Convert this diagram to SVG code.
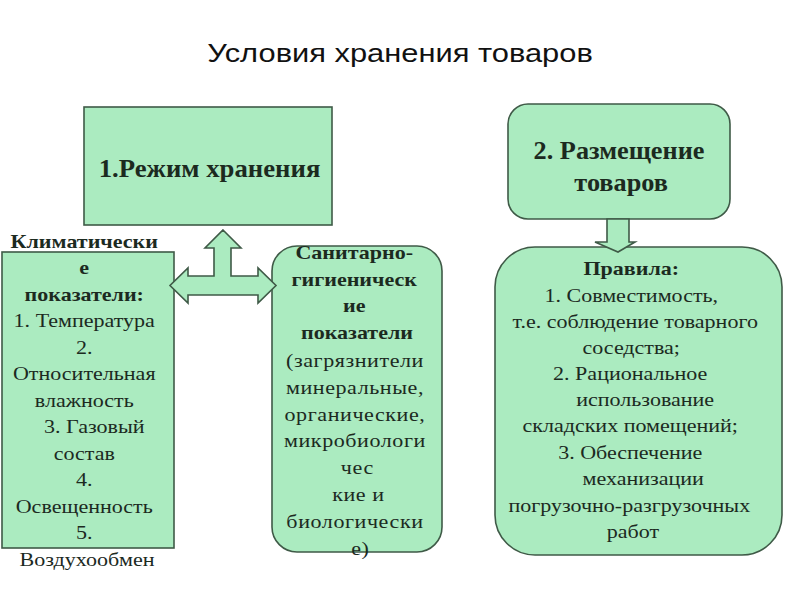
<svg xmlns="http://www.w3.org/2000/svg" width="800" height="600" viewBox="0 0 800 600">
<style>
.box{fill:#abebc0;stroke:#3f5a47;stroke-width:1.6}
.t{font-family:"Liberation Serif","Times New Roman",serif;fill:#1c2a1f;text-anchor:middle}
.b{font-weight:bold}
.s{font-size:19px}
.ls{letter-spacing:0.5px}
.h{font-size:25px;font-weight:bold}
.title{font-family:"Liberation Sans",Arial,sans-serif;font-size:25.5px;fill:#111;text-anchor:middle}
</style>
<rect width="800" height="600" fill="#fff"/>
<text class="title" transform="translate(400 62) scale(1.21 1)" x="0" y="0">Условия хранения товаров</text>
<g id="node-rezhim">
<rect class="box" x="84" y="107" width="248" height="118"/>
<text class="t h" transform="translate(209.5 176.5) scale(1.07 1)" x="0" y="0">1.Режим хранения</text>
</g>
<g id="node-razmeshchenie">
<rect class="box" x="508" y="104" width="222" height="115" rx="20"/>
<g transform="translate(619 0) scale(1.05 1)">
<text class="t h" x="0" y="159">2. Размещение</text>
<text class="t h" x="2" y="191">товаров</text>
</g>
</g>
<g id="node-klimat">
<rect class="box" x="2" y="252" width="172" height="296"/>
<text class="t s" transform="translate(87 0) scale(1.16 1)">
<tspan class="b" x="0" y="248">Климатически</tspan>
<tspan class="b" x="0" y="274.5">е</tspan>
<tspan class="b" x="0" y="301">показатели:</tspan>
<tspan x="0" y="327.5">1. Температура</tspan>
<tspan x="0" y="354">2.</tspan>
<tspan x="0" y="380.5">Относительная</tspan>
<tspan x="0" y="407">влажность</tspan>
<tspan x="8.6" y="433.5">3. Газовый</tspan>
<tspan x="0" y="460">состав</tspan>
<tspan x="0" y="486.5">4.</tspan>
<tspan x="0" y="513">Освещенность</tspan>
<tspan x="0" y="539.5">5.</tspan>
<tspan x="0" y="566">Воздухообмен</tspan>
</text>
</g>
<g id="node-sanitar">
<rect class="box" x="272" y="246" width="170" height="306" rx="25"/>
<text class="t s" transform="translate(357 0) scale(1.16 1)">
<tspan class="b" x="0" y="259">Санитарно-</tspan>
<tspan class="b" x="0" y="286">гигиеническ</tspan>
<tspan class="b" x="0" y="312">ие</tspan>
<tspan class="b" x="0" y="339">показатели</tspan>
</text>
<text class="t s ls" transform="translate(358 0) scale(1.16 1)">
<tspan x="0" y="367">(загрязнители</tspan>
<tspan x="0" y="393.8">минеральные,</tspan>
<tspan x="0" y="420.6">органические,</tspan>
<tspan x="0" y="447.4">микробиологи</tspan>
<tspan x="2" y="474.2">чес</tspan>
<tspan x="3" y="501">кие и</tspan>
<tspan x="0" y="527.8">биологически</tspan>
<tspan x="2" y="554.6">е)</tspan>
</text>
</g>
<g id="node-pravila">
<rect class="box" x="495" y="247" width="287" height="308" rx="40"/>
<text class="t s" transform="translate(634 0) scale(1.16 1)">
<tspan class="b" x="0" y="275">Правила:</tspan>
<tspan x="0" y="302">1. Совместимость,</tspan>
<tspan x="3.4" y="328">т.е. соблюдение товарного</tspan>
<tspan x="0" y="354">соседства;</tspan>
<tspan x="-0.9" y="380.5">2. Рациональное</tspan>
<tspan x="12" y="406.5">использование</tspan>
<tspan x="-0.9" y="432.5">складских помещений;</tspan>
<tspan x="-0.9" y="459">3. Обеспечение</tspan>
<tspan x="10.3" y="485.5">механизации</tspan>
<tspan x="-1.7" y="512">погрузочно-разгрузочных</tspan>
<tspan x="-0.9" y="538.5">работ</tspan>
</text>
</g>
<g id="connectors">
<polygon class="box" points="223,230 241,248 231,248 231,276 258,276 258,268 276,285.5 258,303 258,295 188,295 188,303 170,285.5 188,268 188,276 214,276 214,248 205,248"/>
<polygon class="box" points="607,219 629,219 629,242 635,242 618,252 595,242 607,242"/>
</g>
</svg>
